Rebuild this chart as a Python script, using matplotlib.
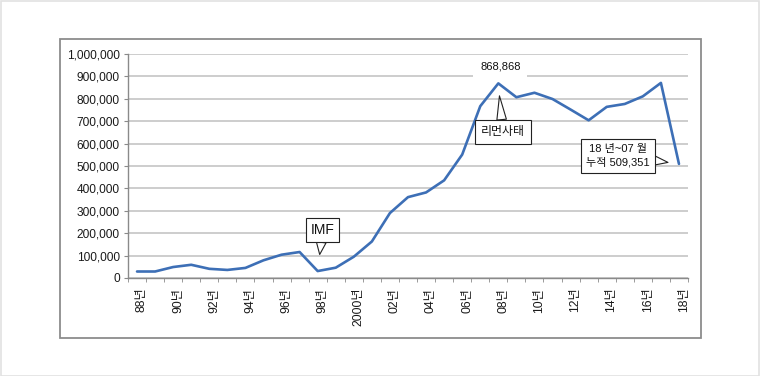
import numpy as np
import matplotlib
matplotlib.use('Agg')
import matplotlib.pyplot as plt
from matplotlib.patches import Rectangle
from matplotlib.ticker import FuncFormatter, MultipleLocator
import matplotlib.transforms as mtransforms

# ---- data ----
years = ['88', '89', '90', '91', '92', '93', '94', '95', '96', '97', '98', '99',
         '2000', '01', '02', '03', '04', '05', '06', '07', '08', '09', '10', '11',
         '12', '13', '14', '15', '16', '17', '18']
values = [29000, 29000, 49000, 59000, 41000, 36000, 45000, 79000, 104000, 116000,
          31000, 46000, 95000, 163000, 290000, 361000, 382000, 436000, 551000,
          767000, 868868, 807000, 827000, 799000, 752000, 704000, 764000, 777000,
          811000, 871000, 509351]
tick_labels = [y + '년' for y in years[::2]]

plt.rcParams['font.family'] = ['Liberation Sans', 'Noto Sans CJK KR']

W, H = 760, 376
fig = plt.figure(figsize=(W / 100, H / 100), dpi=100)
ax = fig.add_axes([128 / W, 98 / H, 560 / W, 224 / H])

x = np.arange(len(values)) + 0.5
ax.plot(x, values, color='#3d6fb6', lw=1.9, solid_joinstyle='round',
        solid_capstyle='round', zorder=3)
ax.set_xlim(0, len(values))
ax.set_ylim(0, 1_000_000)

ax.yaxis.set_major_locator(MultipleLocator(100000))
ax.yaxis.set_major_formatter(FuncFormatter(lambda v, p: f'{int(v):,}'))
ax.grid(axis='y', color='#c0c0c0', lw=1.1)
ax.set_axisbelow(True)
for s in ['top', 'right']:
    ax.spines[s].set_visible(False)
for s in ['left', 'bottom']:
    ax.spines[s].set_color('#8a8a8a')
    ax.spines[s].set_linewidth(1.0)

ax.tick_params(axis='y', length=3, color='#8a8a8a', pad=3, labelsize=8.6,
               labelcolor='#1a1a1a')
ax.set_xticks(x[::2])
ax.set_xticklabels(tick_labels, rotation=90)
ax.set_xticks(np.arange(len(values) + 1), minor=True)
ax.tick_params(axis='x', which='major', length=0, pad=7, labelsize=8.8,
               labelcolor='#1a1a1a')
ax.tick_params(axis='x', which='minor', length=3, color='#8a8a8a')
off = mtransforms.ScaledTranslation(3.5 / 72, 0, fig.dpi_scale_trans)
for lbl in ax.get_xticklabels():
    lbl.set_transform(lbl.get_transform() + off)

def box(pad):
    return dict(boxstyle=f'square,pad={pad}', fc='white', ec='#222222', lw=0.8)

# IMF
i = years.index('98')
ax.annotate('IMF', xy=(x[i], values[i]), xytext=(3.6, 29.5), textcoords='offset points',
            ha='center', va='center', fontsize=10, color='#111111', bbox=box(0.35),
            arrowprops=dict(arrowstyle='wedge,tail_width=0.7', fc='white', ec='#222222',
                            lw=0.8, shrinkA=0, shrinkB=12), zorder=5)

# peak value label
i = years.index('08')
ax.annotate(f'{values[i]:,}', xy=(x[i], values[i]), xytext=(1.4, 12), textcoords='offset points',
            ha='center', va='center', fontsize=8, color='#111111',
            bbox=dict(boxstyle='square,pad=0.6', fc='white', ec='none'), zorder=5)

# Lehman
ax.annotate('리먼사태', xy=(x[i], values[i]), xytext=(3.2, -35), textcoords='offset points',
            ha='center', va='center', fontsize=8.6, color='#111111', bbox=box(0.5),
            arrowprops=dict(arrowstyle='wedge,tail_width=0.8', fc='white', ec='#222222',
                            lw=0.8, shrinkA=0, shrinkB=9), zorder=5)

# 2018 cumulative
i = years.index('18')
ax.annotate(f'18 년~07 월\n누적 {values[i]:,}', xy=(x[i], values[i]), xytext=(-44, 6),
            textcoords='offset points', ha='center', va='center', fontsize=8,
            color='#111111', linespacing=1.4, bbox=box(0.45),
            arrowprops=dict(arrowstyle='wedge,tail_width=0.8', fc='white', ec='#222222',
                            lw=0.8, shrinkA=0, shrinkB=8), zorder=5)

# frames
fig.patches.append(Rectangle((60 / W, (H - 337.5) / H), 641 / W, 299 / H,
                             transform=fig.transFigure, fill=False, ec='#8c8c8c', lw=1.3))
fig.patches.append(Rectangle((0.5 / W, 0.5 / H), (W - 1.5) / W, (H - 1.5) / H,
                             transform=fig.transFigure, fill=False, ec='#e2e2e2', lw=1.2))

fig.savefig('out.png', dpi=100)
